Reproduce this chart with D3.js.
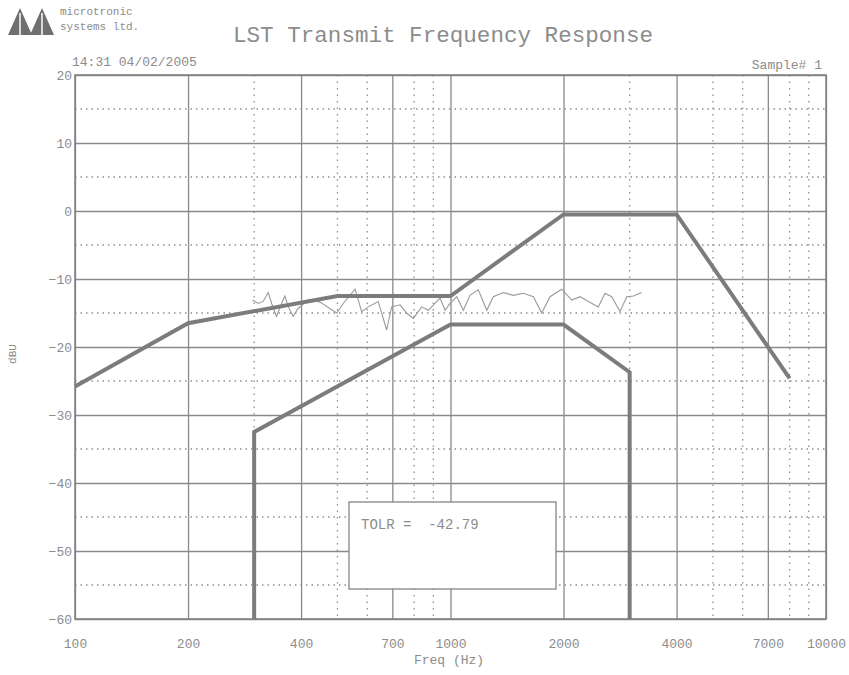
<!DOCTYPE html>
<html>
<head>
<meta charset="utf-8">
<script src="https://cdn.jsdelivr.net/npm/d3@7"></script>
<style>
  html, body { margin: 0; padding: 0; background: #fff; }
  svg { display: block; }
  text { font-family: "Liberation Mono", "DejaVu Sans Mono", monospace; fill: #8c8c8c; }
</style>
</head>
<body>
<svg id="chart" width="849" height="675"></svg>
<script>
// ---- data ----
const titleText = "LST Transmit Frequency Response";
const companyLines = ["microtronic", "systems ltd."];
const timestamp = "14:31 04/02/2005";
const sampleLabel = "Sample# 1";
const yLabel = "dBU";
const xLabel = "Freq (Hz)";
const tolrLabel = "TOLR =\u00a0\u00a0-42.79";

const yTicks = [20, 10, 0, -10, -20, -30, -40, -50, -60];
const yMinorTicks = [15, 5, -5, -15, -25, -35, -45, -55];
const xTicks = [100, 200, 400, 700, 1000, 2000, 4000, 7000, 10000];
const xMinorTicks = [300, 500, 600, 800, 900, 3000, 5000, 6000, 8000, 9000];

// upper mask (thick line)
const upperFreq = [100, 200, 500, 1000, 2000, 4000, 8000];
const upperDb   = [-25.8, -16.5, -12.5, -12.5, -0.5, -0.5, -24.6];
// lower mask (thick line)
const lowerFreq = [300, 300, 1000, 2000, 3000, 3000];
const lowerDb   = [-60, -32.5, -16.7, -16.7, -23.7, -60];
// measured response (thin line)
const measFreq = [297, 308, 317, 327, 334, 344, 355, 362, 370, 381, 393, 420, 449, 498, 518, 557, 580, 604, 642, 676, 697, 734, 764, 796, 838, 873, 909, 938, 967, 997, 1039, 1082, 1127, 1186, 1249, 1300, 1382, 1470, 1563, 1662, 1750, 1841, 1978, 2103, 2213, 2328, 2475, 2579, 2687, 2828, 2946, 3068, 3230];
const measDb   = [-13.1, -13.6, -13.3, -12.0, -13.6, -15.5, -13.6, -12.5, -14.1, -15.5, -14.3, -13.0, -13.4, -15.0, -13.6, -11.5, -14.8, -14.1, -13.3, -17.5, -14.1, -13.8, -15.0, -15.8, -14.1, -14.6, -13.6, -12.8, -14.6, -13.6, -12.6, -14.6, -12.4, -11.6, -14.6, -12.6, -12.0, -12.4, -12.1, -12.6, -15.0, -12.6, -11.5, -13.1, -12.6, -13.3, -14.1, -12.1, -12.6, -14.8, -12.6, -12.5, -12.0];

// ---- layout ----
const svg = d3.select("#chart");
const L = 75, R = 826, T = 75, B = 619;
const x = d3.scaleLog().domain([100, 10000]).range([L, R]);
const y = d3.scaleLinear().domain([-60, 20]).range([B, T]);

const gridColor = "#8a8a8a";
const dotColor = "#8f8f8f";

// minor dotted grid
svg.append("g").selectAll("line.hm").data(yMinorTicks).join("line")
  .attr("x1", L).attr("x2", R).attr("y1", d => y(d)).attr("y2", d => y(d))
  .attr("stroke", dotColor).attr("stroke-width", 1.3).attr("stroke-dasharray", "1.5,4");
svg.append("g").selectAll("line.vm").data(xMinorTicks).join("line")
  .attr("y1", T).attr("y2", B).attr("x1", d => x(d)).attr("x2", d => x(d))
  .attr("stroke", dotColor).attr("stroke-width", 1.3).attr("stroke-dasharray", "1.5,5");

// major grid via axes
const gy = svg.append("g").attr("transform", `translate(${L},0)`)
  .call(d3.axisLeft(y).tickValues(yTicks).tickSize(-(R - L)).tickPadding(3).tickFormat(d3.format("d")));
gy.select(".domain").remove();
gy.selectAll(".tick line").attr("stroke", gridColor).attr("stroke-width", 1.3);
gy.selectAll(".tick text").style("font-size", "13px").attr("fill", "#8c8c8c")
  .style("font-family", "'Liberation Mono', monospace");

const gx = svg.append("g").attr("transform", `translate(0,${B})`)
  .call(d3.axisBottom(x).tickValues(xTicks).tickSize(-(B - T)).tickPadding(20).tickFormat(d3.format("d")));
gx.select(".domain").remove();
gx.selectAll(".tick line").attr("stroke", gridColor).attr("stroke-width", 1.3);
gx.selectAll(".tick text").style("font-size", "13px").attr("fill", "#8c8c8c")
  .style("font-family", "'Liberation Mono', monospace");

// frame
svg.append("rect").attr("x", L).attr("y", T).attr("width", R - L).attr("height", B - T)
  .attr("fill", "none").attr("stroke", "#808080").attr("stroke-width", 1.5);

// lines
const line = d3.line().x(d => x(d[0])).y(d => y(d[1]));
svg.append("path").datum(d3.zip(measFreq, measDb)).attr("d", line)
  .attr("fill", "none").attr("stroke", "#9a9a9a").attr("stroke-width", 1.1);
svg.append("path").datum(d3.zip(upperFreq, upperDb)).attr("d", line)
  .attr("fill", "none").attr("stroke", "#7c7c7c").attr("stroke-width", 4);
svg.append("path").datum(d3.zip(lowerFreq, lowerDb)).attr("d", line)
  .attr("fill", "none").attr("stroke", "#7c7c7c").attr("stroke-width", 4);

// TOLR box
svg.append("rect").attr("x", 349).attr("y", 502).attr("width", 207).attr("height", 87)
  .attr("fill", "#fff").attr("stroke", "#858585").attr("stroke-width", 1.3);
svg.append("text").attr("x", 361).attr("y", 529).style("font-size", "14px").text(tolrLabel);

// titles / labels
svg.append("text").attr("x", 233).attr("y", 42).style("font-size", "22px")
  .attr("textLength", 420).attr("lengthAdjust", "spacingAndGlyphs").text(titleText);
svg.append("text").attr("x", 72).attr("y", 66).style("font-size", "13px").text(timestamp);
svg.append("text").attr("x", 822).attr("y", 69).attr("text-anchor", "end").style("font-size", "13px").text(sampleLabel);
svg.append("text").attr("x", 449).attr("y", 664).attr("text-anchor", "middle").style("font-size", "13px").text(xLabel);
svg.append("text").attr("transform", "translate(16,354) rotate(-90)").attr("text-anchor", "middle")
  .style("font-size", "11px").text(yLabel);

// logo
const logo = svg.append("g");
logo.append("path").attr("d", "M8,35 L20,8 L32,35 Z M30,35 L42,8 L54,35 Z").attr("fill", "#6f6f6f");
logo.append("path").attr("d", "M20,13 L20,35 M42,13 L42,35").attr("stroke", "#d8d8d8").attr("stroke-width", 2);
companyLines.forEach((t, i) => {
  svg.append("text").attr("x", 60).attr("y", 15 + i * 15).style("font-size", "11px").attr("fill", "#a0a0a0").text(t);
});
</script>
</body>
</html>
